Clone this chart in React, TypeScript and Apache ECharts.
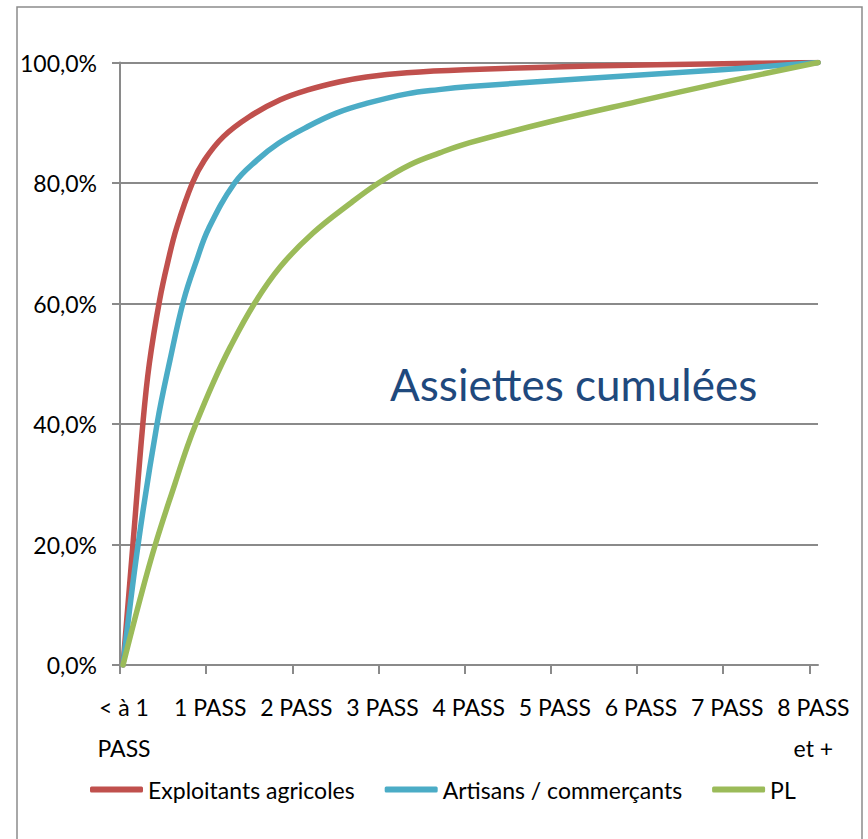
import React, { useEffect, useRef } from "react";
import * as echarts from "echarts";

const categories = ["< à 1\nPASS", "1 PASS", "2 PASS", "3 PASS", "4 PASS", "5 PASS", "6 PASS", "7 PASS", "8 PASS\net +"];
const tickPositions = [0, 1, 2, 3, 4, 5, 6, 7, 8];
const yTicks = [0, 20, 40, 60, 80, 100];

const seriesNames = ["Exploitants agricoles", "Artisans / commerçants", "PL"];

const exploitants: [number, number][] = [
  [0.035, 0], [0.15, 20], [0.265, 40], [0.34, 50], [0.46, 60.6], [0.56, 67.2], [0.66, 72.7],
  [0.84, 80], [0.98, 83.8], [1.2, 87.7], [1.5, 91.0], [1.86, 93.8], [2.17, 95.4], [2.55, 96.8],
  [2.86, 97.6], [3.33, 98.3], [4.0, 98.8], [5.45, 99.4], [7.0, 99.8], [8.1, 100],
];
const artisans: [number, number][] = [
  [0.035, 0], [0.21, 20], [0.43, 40], [0.58, 50.6], [0.74, 60.6], [0.89, 67.2], [1.03, 72.5],
  [1.33, 80], [1.59, 83.8], [1.84, 86.6], [2.17, 89.3], [2.51, 91.6], [2.86, 93.2], [3.33, 94.8],
  [3.7, 95.5], [4.06, 96.0], [5.45, 97.4], [6.98, 98.8], [8.1, 100],
];
const pl: [number, number][] = [
  [0.035, 0], [0.23, 10.8], [0.41, 20], [0.64, 30.2], [0.78, 36.2], [0.88, 40], [1.08, 46.8],
  [1.28, 52.8], [1.56, 60], [1.86, 66.1], [2.24, 71.7], [2.67, 76.6], [3.0, 80], [3.36, 83.0],
  [3.71, 85.0], [4.06, 86.7], [5.0, 90.2], [6.0, 93.5], [7.0, 96.7], [8.1, 100],
];

const colors = ["#C0504D", "#4BACC6", "#9BBB59"];
const FONT = "Lato, 'Liberation Sans', sans-serif";

export default function App() {
  const ref = useRef<HTMLDivElement>(null);
  useEffect(() => {
    if (!ref.current) return;
    const chart = echarts.init(ref.current, null, { renderer: "svg" });
    const mk = (name: string, data: [number, number][], color: string) => ({
      name,
      type: "line",
      data,
      smooth: 0.4,
      symbol: "none",
      showSymbol: false,
      lineStyle: { color, width: 5.5, cap: "round", join: "round" },
      itemStyle: { color },
    });
    chart.setOption({
      animation: false,
      backgroundColor: "#ffffff",
      color: colors,
      grid: { left: 120, right: 50, top: 62.5, bottom: 174, containLabel: false },
      xAxis: {
        type: "value",
        min: 0,
        max: 8.1,
        interval: 1,
        axisLine: { show: true, lineStyle: { color: "#8a8a8a", width: 2 } },
        axisTick: { show: true, customValues: tickPositions, length: 9, lineStyle: { color: "#8a8a8a", width: 2 } },
        axisLabel: {
          customValues: tickPositions,
          formatter: (v: number) => categories[Math.round(v)] ?? "",
          fontFamily: FONT,
          fontSize: 23,
          color: "#000",
          lineHeight: 41,
          margin: 21,
          padding: [0, 0, 0, 8],
          hideOverlap: false,
          showMaxLabel: true,
        },
        splitLine: { show: false },
      },
      yAxis: {
        type: "value",
        min: 0,
        max: 100,
        interval: 20,
        axisLine: { show: true, lineStyle: { color: "#8a8a8a", width: 2 } },
        axisTick: { show: true, length: 8, lineStyle: { color: "#8a8a8a", width: 2 } },
        axisLabel: {
          formatter: (v: number) => (yTicks.includes(v) ? v.toFixed(1).replace(".", ",") + "%" : ""),
          fontFamily: FONT,
          fontSize: 23,
          color: "#000",
          margin: 23,
        },
        splitLine: { show: true, lineStyle: { color: "#8a8a8a", width: 2 } },
      },
      legend: {
        data: seriesNames,
        left: 85,
        top: 773,
        icon: "roundRect",
        itemWidth: 53,
        itemHeight: 6,
        itemGap: 30,
        textStyle: { fontFamily: FONT, fontSize: 23, color: "#000" },
      },
      graphic: [
        {
          type: "rect",
          shape: { x: 17, y: 7, width: 845, height: 900 },
          style: { fill: "none", stroke: "#8c8c8c", lineWidth: 1.5 },
          silent: true,
        },
        {
          type: "text",
          x: 390,
          y: 384,
          style: {
            text: "Assiettes cumulées",
            fontFamily: FONT,
            fontSize: 44,
            fill: "#1F497D",
            textVerticalAlign: "middle",
          },
        },
      ],
      series: [mk(seriesNames[0], exploitants, colors[0]), mk(seriesNames[1], artisans, colors[1]), mk(seriesNames[2], pl, colors[2])],
    });
    return () => chart.dispose();
  }, []);
  return <div ref={ref} style={{ position: "fixed", left: 0, top: 0, width: 868, height: 839 }} />;
}
